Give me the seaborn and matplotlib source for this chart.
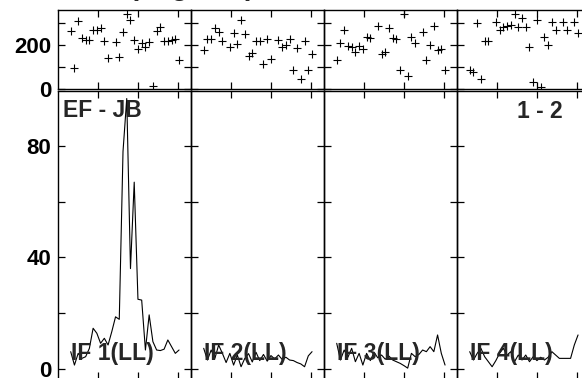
import numpy as np
import pandas as pd
import matplotlib
matplotlib.use('Agg')
import matplotlib.pyplot as plt
import seaborn as sns

sns.set_style('white')
plt.rcParams['font.family'] = ['Liberation Sans', 'DejaVu Sans']
plt.rcParams['font.weight'] = 'bold'

# channels 1..30 for every IF
chan = np.arange(1, 31)
nan = np.nan

# phase (degrees), top row
phase_if1 = [264, 96, 310, 233, 225, 222, 271, 267, 276, 217, 140, nan, 214, 144, 259,
             344, 313, 225, 181, 209, 189, 212, 12, 264, 282, 217, 217, 225, 229, 129]
phase_if2 = [177, 228, 229, 278, 259, 220, nan, 189, 254, 206, 313, 251, 149, 164, 220,
             220, 115, 226, 135, nan, 223, 192, 200, 228, 87, 187, 45, 220, 84, 161]
phase_if3 = [130, 208, 267, 195, 192, 166, 195, 184, 236, 234, nan, 288, 161, 169, 278,
             231, 226, 87, 344, 57, 239, 208, nan, 262, 133, 200, 288, 177, 180, 84]
phase_if4 = [87, 76, 301, 45, 220, 220, nan, 304, 270, 285, 288, 293, 344, 282, 324,
             285, 189, 29, 316, 9, 236, 200, 304, 270, nan, 308, 270, nan, 308, 254]

# amplitude, bottom row
amp_if1 = [6.2, 1.4, 5.6, 3.8, 4.4, 7.4, 14.6, 12.8, 9.2, 11.0, 8.6, 13.4, 18.7, 17.8, 78,
           97, 36, 67, 25, 24.7, 6.8, 19.4, 9.8, 6.8, 6.6, 7.1, 10.4, 8.0, 5.6, 6.8]
amp_if2 = [7.4, 3.2, 6.8, 3.8, 8.6, 5.6, 2.3, 5.6, 1.4, 5.0, 0.8, 3.8, 5.5, 2.5, 6.0,
           3.0, 5.2, 2.8, 4.8, 3.6, 5.0, 3.4, 4.2, 3.2, 3.0, 2.3, 1.8, 0.8, 4.7, 6.2]
amp_if3 = [9.2, 3.2, 6.8, 4.2, 7.4, 2.6, 5.6, 1.4, 5.6, 3.0, 6.0, 4.0, 5.0, 3.5, 4.6,
           3.2, 2.6, 2.0, 1.2, 0.3, 5.6, 4.4, 5.2, 6.8, 6.2, 8.0, 6.2, 12.2, 5.6, 1.4]
amp_if4 = [6.2, 3.2, 5.6, 7.4, 4.4, 2.6, 0.8, 3.0, 5.6, 7.4, 5.0, 6.2, 2.6, 5.0, 3.2,
           5.0, 2.6, 4.4, 3.0, 4.2, 3.2, 4.2, 6.2, 5.0, 3.8, 3.8, 3.8, 3.8, 8.6, 12.2]

phases = [phase_if1, phase_if2, phase_if3, phase_if4]
amps = [amp_if1, amp_if2, amp_if3, amp_if4]
if_labels = ['IF 1(LL)', 'IF 2(LL)', 'IF 3(LL)', 'IF 4(LL)']

W, H = 582, 378
fig = plt.figure(figsize=(W / 100, H / 100), dpi=100)

def fx(px):
    return px / W

def fy(py):
    return (H - py) / H

lefts = [58, 191, 324, 457]
pw = 133
xlim = (-2.4, 33.2)
xt = [8.3, 19.0, 29.7]

for i in range(4):
    L = lefts[i]
    # phase panel
    axp = fig.add_axes([fx(L), fy(89), pw / W, 79 / H])
    sns.scatterplot(x=chan, y=phases[i], ax=axp, marker='+', color='black',
                    s=40, linewidth=0.8)
    axp.set_xlim(*xlim)
    axp.set_ylim(-2, 361)
    axp.set_yticks([0, 100, 200, 300])
    if i == 0:
        axp.set_yticklabels(['0', '', '200', ''])
    else:
        axp.set_yticklabels([])
    # amplitude panel
    axa = fig.add_axes([fx(L), fy(379), pw / W, 288 / H])
    sns.lineplot(x=chan, y=amps[i], ax=axa, color='black', linewidth=0.8,
                 estimator=None)
    axa.set_xlim(*xlim)
    axa.set_ylim(-3.6, 99.7)
    axa.set_yticks([0, 20, 40, 60, 80])
    if i == 0:
        axa.set_yticklabels(['0', '', '40', '', '80'])
    else:
        axa.set_yticklabels([])
    for ax in (axp, axa):
        ax.set_xticks(xt)
        ax.set_xticklabels([])
        ax.set_xlabel('')
        ax.set_ylabel('')
        ax.tick_params(direction='in', length=5, width=0.9, top=True, right=True,
                       left=True, bottom=True, labelsize=16, pad=5, colors='black')
        for sp in ax.spines.values():
            sp.set_visible(True)
            sp.set_color('black')
            sp.set_linewidth(1.0)
        ax.patch.set_alpha(0)
    fig.text(fx(L + 13), fy(360), if_labels[i], fontsize=16.5, fontweight='bold',
             va='baseline', ha='left')

fig.text(fx(63), fy(117), 'EF - JB', fontsize=16.5, fontweight='bold', va='baseline')
fig.text(fx(563), fy(118), '1 - 2', fontsize=16.5, fontweight='bold', va='baseline', ha='right')
fig.text(fx(40), fy(-5), 'Phase (degrees)', fontsize=20, fontweight='bold', va='baseline')

fig.savefig('out.png', dpi=100)
